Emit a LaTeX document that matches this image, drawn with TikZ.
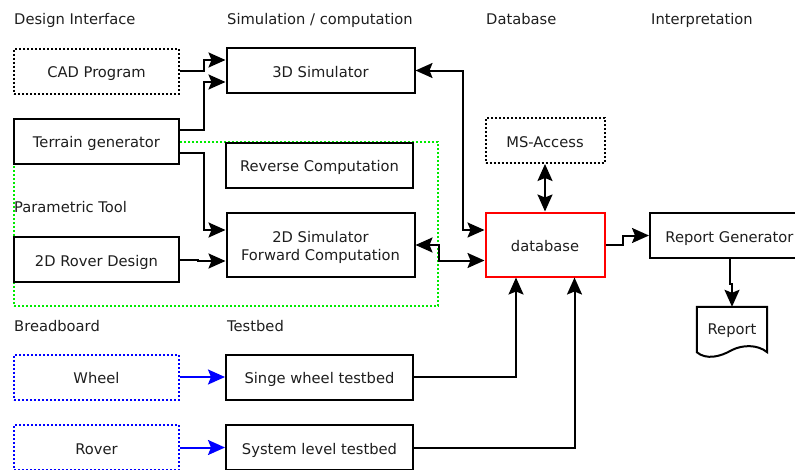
\documentclass[tikz,border=0pt]{standalone}
\usepackage{fontspec}
\setmainfont{DejaVu Sans}
\usetikzlibrary{arrows.meta,calc}
\definecolor{limeg}{RGB}{0,235,0}
\definecolor{txt}{RGB}{30,30,30}
\begin{document}
\begin{tikzpicture}[x=1pt,y=-1pt,
  font=\fontsize{14.7}{18}\selectfont,
  box/.style={draw=black, line width=2pt, fill=white, minimum height=45pt, inner sep=0pt, align=center, text=txt, text height=13pt, text depth=0pt},
  dotbox/.style={box, dash pattern=on 2pt off 2pt},
  bluebox/.style={dotbox, draw=blue},
  lw/.style={minimum width=165pt},
  mw/.style={minimum width=188pt},
  dw/.style={minimum width=119pt},
  tip/.tip={Stealth[length=17pt,width=15pt,inset=3pt]},
  conn/.style={line width=2pt, -tip},
  conn2/.style={line width=2pt, tip-tip},
  blueconn/.style={conn, draw=blue},
  title/.style={anchor=base west, inner sep=0pt, text=txt}
]
\useasboundingbox (0,0) rectangle (795,469);

% titles
\node[title] (tDesign) at (14,24.5) {Design Interface};
\node[title] (tSim) at (227,24.5) {Simulation / computation};
\node[title] (tDb) at (486,24.5) {Database};
\node[title] (tInt) at (651,24.5) {Interpretation};
\node[title] (tParam) at (14,212.5) {Parametric Tool};
\node[title] (tBread) at (14,331) {Breadboard};
\node[title] (tTest) at (227,331) {Testbed};

% parametric tool group
\node[draw=limeg, line width=2pt, dash pattern=on 2pt off 2pt, minimum width=424pt, minimum height=164pt, inner sep=0pt] (paramgroup) at (226,224) {};

% boxes
\node[dotbox, lw] (cad) at (96.5,71) {CAD Program};
\node[box, mw] (sim3d) at (320.5,70.5) {3D Simulator};
\node[box, lw] (terrain) at (96.5,141) {Terrain generator};
\node[box, minimum width=187pt] (rev) at (319.5,165) {Reverse Computation};
\node[box, lw] (rover2d) at (96.5,259.5) {2D Rover Design};
\node[box, mw, minimum height=64pt, text height=, text depth=] (sim2d) at (320.5,245)
  {\raisebox{-2.5pt}[\height][\depth]{2D Simulator}\\\raisebox{-2.5pt}[\height][\depth]{Forward Computation}};
\node[dotbox, dw] (ms) at (545,140.5) {MS-Access};
\node[box, dw, draw=red, minimum height=64pt] (db) at (545,244.5) {database};
\node[box, minimum width=159pt] (rg) at (729.5,235.5) {Report Generator};
\node[inner sep=0pt, minimum width=70pt, minimum height=42pt, text=txt, text height=13pt, text depth=0pt] (report) at (732,328) {Report};
\draw[line width=2pt, line join=miter] (report.south west) -- (report.north west) -- (report.north east) -- ($(report.south east)+(0,3)$)
  .. controls (757,344) and (742,345) .. (732,350)
  .. controls (720,357) and (706,360) .. ($(report.south west)+(0,3)$) -- cycle;
\node[bluebox, lw] (wheel) at (96.5,377) {Wheel};
\node[box, minimum width=187pt] (swt) at (319.5,377) {Singe wheel testbed};
\node[bluebox, lw] (rover) at (96.5,447.5) {Rover};
\node[box, minimum width=187pt] (slt) at (319.5,447.5) {System level testbed};

% connectors
\draw[conn] (cad.east) -- ++(24,0) |- ($(sim3d.west)+(0,-10.5)$);
\draw[conn] ($(terrain.east)+(0,-11)$) -- ++(24,0) |- ($(sim3d.west)+(0,11.5)$);
\draw[conn] ($(terrain.east)+(0,12)$) -- ++(24,0) |- ($(sim2d.west)+(0,-15)$);
\draw[conn] (rover2d.east) -- ++(18,0) |- ($(sim2d.west)+(0,16)$);
\draw[conn2] (sim3d.east) -- ++(47,0) |- ($(db.west)+(0,-14.5)$);
\draw[conn2] (sim2d.east) -- ++(23,0) |- ($(db.west)+(0,16)$);
\draw[conn2] (ms.south) -- (db.north);
\draw[conn] (db.east) -- ++(17,0) |- (rg.west);
\draw[conn] (rg.south) -- ++(0,25) -| (report.north);
\draw[blueconn] (wheel.east) -- (swt.west);
\draw[blueconn] (rover.east) -- (slt.west);
\draw[conn] (swt.east) -| ($(db.south)+(-29,0)$);
\draw[conn] (slt.east) -| ($(db.south)+(29.5,0)$);
\end{tikzpicture}
\end{document}
